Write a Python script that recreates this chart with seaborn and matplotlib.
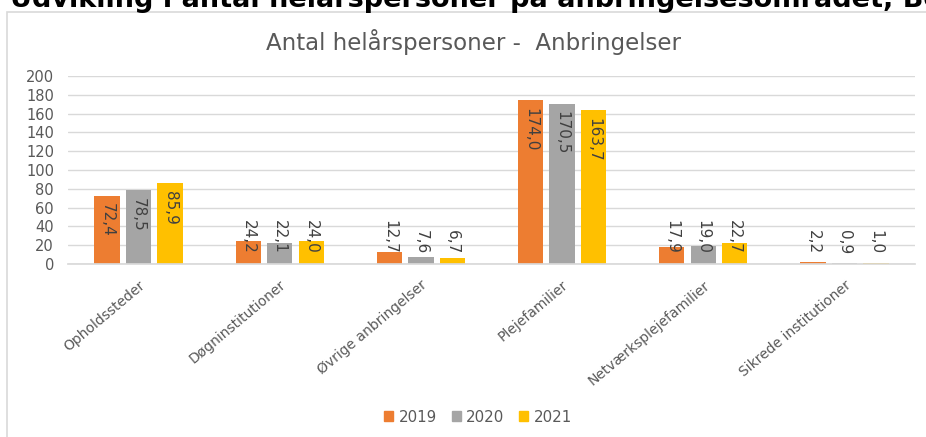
import matplotlib
matplotlib.use("Agg")
import matplotlib.pyplot as plt
import matplotlib.patches as mpatches
import seaborn as sns
import pandas as pd

categories = ["Opholdssteder", "Døgninstitutioner", "Øvrige anbringelser",
              "Plejefamilier", "Netværksplejefamilier", "Sikrede institutioner"]
years = ["2019", "2020", "2021"]
v2019 = [72.4, 24.2, 12.7, 174.0, 17.9, 2.2]
v2020 = [78.5, 22.1, 7.6, 170.5, 19.0, 0.9]
v2021 = [85.9, 24.0, 6.7, 163.7, 22.7, 1.0]
yticks = [0, 20, 40, 60, 80, 100, 120, 140, 160, 180, 200]
colors = ["#ED7D31", "#A5A5A5", "#FFC000"]

rows = []
for yr, vals in zip(years, [v2019, v2020, v2021]):
    for c, v in zip(categories, vals):
        rows.append({"Kategori": c, "År": yr, "Værdi": v})
df = pd.DataFrame(rows)

sns.set_theme(style="white")
plt.rcParams["font.family"] = ["DejaVu Sans"]

W, H = 926, 437
fig = plt.figure(figsize=(W / 100, H / 100), dpi=100)

# chart border
fig.add_artist(mpatches.Rectangle((7 / W, -0.1), 1.2, 1.1 - 12 / H,
                                  transform=fig.transFigure, fill=False,
                                  edgecolor="#D9D9D9", linewidth=1.2))

# page heading (cropped at the top edge, as in the reference)
fig.text(10 / W, 1 - 7 / H, "Udvikling i antal helårspersoner på anbringelsesområdet, Bornholm",
         fontsize=19.5, fontweight="bold", color="black", va="baseline", ha="left")

ax = fig.add_axes([68 / W, 1 - 264 / H, (915 - 68) / W, 188 / H])
sns.barplot(data=df, x="Kategori", y="Værdi", hue="År", palette=colors,
            saturation=1, width=0.67, gap=0.2, ax=ax, legend=False,
            errorbar=None, linewidth=0)

ax.set_ylim(0, 200)
ax.set_xlim(-0.5, 5.5)
ax.set_yticks(yticks)
ax.set_yticklabels([str(t) for t in yticks], fontsize=10.5, color="#595959")
ax.yaxis.grid(True, color="#D9D9D9", linewidth=1)
ax.set_axisbelow(True)
for s in ["top", "right", "left"]:
    ax.spines[s].set_visible(False)
ax.spines["bottom"].set_color("#D9D9D9")
ax.tick_params(axis="y", length=0, pad=10)
ax.tick_params(axis="x", length=0, pad=10)
ax.set_xlabel("")
ax.set_ylabel("")
ax.set_xticks(range(len(categories)))
ax.set_xticklabels(categories, rotation=40, ha="right", va="top",
                   rotation_mode="anchor", fontsize=10, color="#595959")

for cont, vals in zip(ax.containers, [v2019, v2020, v2021]):
    for patch, v in zip(cont.patches, vals):
        xc = patch.get_x() + patch.get_width() / 2
        lab = f"{v:.1f}".replace(".", ",")
        if v > 50:
            ax.text(xc, v - 8, lab, rotation=270, ha="center", va="top",
                    fontsize=11, color="#404040")
        else:
            ax.text(xc, 10.5, lab, rotation=270, ha="center", va="bottom",
                    fontsize=11, color="#404040")

fig.text(474 / W, 1 - 42 / H, "Antal helårspersoner -  Anbringelser",
         ha="center", va="center", fontsize=16.5, color="#595959")

handles = [mpatches.Patch(color=c, label=y) for c, y in zip(colors, years)]
fig.legend(handles=handles, loc="center", bbox_to_anchor=(478 / W, 1 - 417 / H),
           ncol=3, frameon=False, fontsize=10.8, handlelength=0.6, handleheight=0.6,
           handletextpad=0.35, columnspacing=1.0, labelcolor="#595959")

fig.savefig("out.png", dpi=100)
